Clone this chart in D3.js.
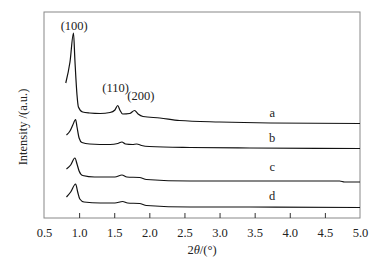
<!DOCTYPE html>
<html>
<head>
<meta charset="utf-8">
<script src="https://cdn.jsdelivr.net/npm/d3@7"></script>
<style>
  body { margin: 0; background: #fff; }
  text { font-family: "Liberation Serif", "DejaVu Serif", serif; fill: #222; }
</style>
</head>
<body>
<svg></svg>
<script>
// 2theta (deg) and intensity (a.u., curves already offset)
const thetaA = [0.81, 0.87, 0.92, 0.94, 0.97, 0.99, 1.05, 1.15, 1.30, 1.44, 1.51, 1.55, 1.58, 1.62, 1.72, 1.79, 1.84, 1.91, 2.15, 2.43, 3.0, 3.72, 5.0];
const seriesA = [135, 156, 185, 158, 123, 111, 106, 105, 104.5, 105.5, 108, 112.5, 108, 104, 104.5, 107.5, 104, 101.5, 100, 97.5, 96, 95, 94.5];

const thetaB = [0.82, 0.87, 0.91, 0.95, 0.97, 1.0, 1.04, 1.15, 1.44, 1.55, 1.61, 1.66, 1.76, 1.82, 1.89, 2.0, 2.58, 3.43, 5.0];
const seriesB = [83, 87, 93, 98.5, 91, 80, 75.5, 74, 73.5, 74.5, 76, 74, 73.5, 74, 72.5, 71.5, 70.5, 70, 69.5];

const thetaC = [0.82, 0.88, 0.94, 0.97, 1.0, 1.05, 1.22, 1.51, 1.61, 1.68, 1.86, 1.96, 2.58, 3.43, 4.71, 4.78, 5.0];
const seriesC = [49, 53, 60, 54, 47, 42.5, 41, 41, 43, 41, 40.5, 38.5, 37, 37, 37, 36, 36];

const thetaD = [0.82, 0.88, 0.95, 0.98, 1.01, 1.07, 1.30, 1.51, 1.62, 1.69, 1.86, 1.96, 2.58, 3.43, 5.0];
const seriesD = [21, 26, 34, 26, 19, 16, 15, 15, 16.5, 15, 14.5, 12.5, 11, 11, 10.5];

const sampleNames = ["a", "b", "c", "d"];
const labelTheta = 3.75;
const labelLevel = [101, 76, 47, 18];

const peakNames = ["(100)", "(110)", "(200)"];
const peakTheta = [0.93, 1.52, 1.88];
const peakLevel = [188, 126, 118];

const xTicks = [0.5, 1.0, 1.5, 2.0, 2.5, 3.0, 3.5, 4.0, 4.5, 5.0];

const width = 378, height = 262;
const margin = { top: 12, right: 18, bottom: 44, left: 44 };

const svg = d3.select("svg").attr("width", width).attr("height", height);

const x = d3.scaleLinear().domain([0.5, 5.0]).range([margin.left, width - margin.right]);
const y = d3.scaleLinear().domain([0, 206]).range([height - margin.bottom, margin.top]);

// frame
svg.append("rect")
  .attr("x", x(0.5)).attr("y", y(206))
  .attr("width", x(5.0) - x(0.5)).attr("height", y(0) - y(206))
  .attr("fill", "none").attr("stroke", "#888").attr("stroke-width", 1);

// bottom axis, ticks pointing in
const xAxis = d3.axisBottom(x)
  .tickValues(xTicks)
  .tickFormat(d3.format(".1f"))
  .tickSizeInner(-5)
  .tickSizeOuter(0)
  .tickPadding(10);

const gx = svg.append("g")
  .attr("transform", `translate(0,${y(0)})`)
  .call(xAxis);
gx.select(".domain").remove();
gx.selectAll(".tick line").attr("stroke", "#333");
gx.selectAll(".tick line").filter(d => d === 0.5 || d === 5.0).remove();
gx.selectAll("text")
  .attr("font-family", "Liberation Serif, serif")
  .attr("font-size", 12.5)
  .attr("fill", "#222");

// axis titles
const xTitle = svg.append("text")
  .attr("x", (x(0.5) + x(5.0)) / 2)
  .attr("y", 254)
  .attr("text-anchor", "middle")
  .attr("font-size", 12.5);
xTitle.append("tspan").text("2");
xTitle.append("tspan").attr("font-style", "italic").text("θ");
xTitle.append("tspan").text("/(°)");

svg.append("text")
  .attr("transform", "translate(27,127) rotate(-90)")
  .attr("text-anchor", "middle")
  .attr("font-size", 12.5)
  .text("Intensity /(a.u.)");

// curves
const line = d3.line()
  .x(d => x(d[0]))
  .y(d => y(d[1]))
  .curve(d3.curveMonotoneX);

const curves = [
  d3.zip(thetaA, seriesA),
  d3.zip(thetaB, seriesB),
  d3.zip(thetaC, seriesC),
  d3.zip(thetaD, seriesD),
];

svg.selectAll("path.curve")
  .data(curves)
  .enter()
  .append("path")
  .attr("class", "curve")
  .attr("d", line)
  .attr("fill", "none")
  .attr("stroke", "#111")
  .attr("stroke-width", 1.2);

// sample labels
svg.selectAll("text.sample")
  .data(sampleNames)
  .enter()
  .append("text")
  .attr("class", "sample")
  .attr("x", x(labelTheta))
  .attr("y", (d, i) => y(labelLevel[i]))
  .attr("text-anchor", "middle")
  .attr("font-size", 12.5)
  .text(d => d);

// peak labels
svg.selectAll("text.peak")
  .data(peakNames)
  .enter()
  .append("text")
  .attr("class", "peak")
  .attr("x", (d, i) => x(peakTheta[i]))
  .attr("y", (d, i) => y(peakLevel[i]))
  .attr("text-anchor", "middle")
  .attr("font-size", 12.5)
  .text(d => d);
</script>
</body>
</html>
